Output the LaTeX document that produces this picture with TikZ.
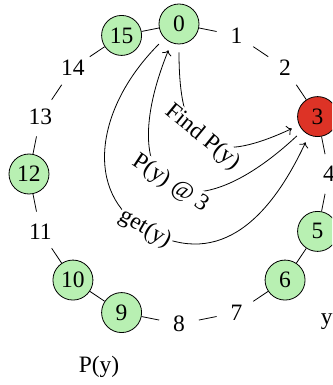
\documentclass[tikz,border=0pt]{standalone}
\usepackage{fontspec}
\setmainfont{Liberation Serif}
\usetikzlibrary{arrows.meta}
\definecolor{nodegreen}{RGB}{184,240,178}
\definecolor{nodered}{RGB}{221,51,38}
\begin{document}
\begin{tikzpicture}[x=1pt,y=1pt,
  every node/.style={font=\fontsize{23.5}{27}\selectfont},
  slot/.style={circle, minimum size=40pt, inner sep=0pt},
  peer/.style={slot, draw, line width=0.8pt, fill=nodegreen},
  hit/.style={slot, draw, line width=0.8pt, fill=nodered},
  ring/.style={line width=0.8pt},
  msg/.style={line width=0.8pt, shorten <=8pt, shorten >=8pt, -{To[scale=1.4]}},
  tag/.style={sloped, fill=white, inner sep=1.5pt}]
\useasboundingbox (-179,-211) rectangle (153,174);
\clip (-179,-211) rectangle (153,174);
\foreach \k/\s in {0/peer,1/slot,2/slot,3/hit,4/slot,5/peer,6/peer,7/slot,8/slot,9/peer,10/peer,11/slot,12/peer,13/slot,14/slot,15/peer}
  \node[\s] (n\k) at ({90-22.5*\k}:150) {\k};
\foreach \a/\b in {0/1,1/2,2/3,3/4,4/5,5/6,6/7,7/8,8/9,9/10,10/11,11/12,12/13,13/14,14/15,15/0}
  \draw[ring] (n\a) -- (n\b);
\node (ylab) at (-45:209) {y};
\node (pylab) at (247.5:209) {P(y)};
\draw[msg] (n0) to[out=-90, in=205, looseness=1.8] node[tag, pos=0.48] {Find P(y)} (n3);
\draw[msg] (n3) to[out=223, in=-112, looseness=2.6] node[tag] {P(y) @ 3} (n0);
\coordinate (g) at (-34,-55);
\draw[msg] (n0) .. controls +(225:120) and +(150:70) .. (g)
  node[fill=white, rotate=-30, inner sep=1.5pt] {get(y)}
  .. controls +(-30:80) and +(245:120) .. (n3);
\end{tikzpicture}
\end{document}
